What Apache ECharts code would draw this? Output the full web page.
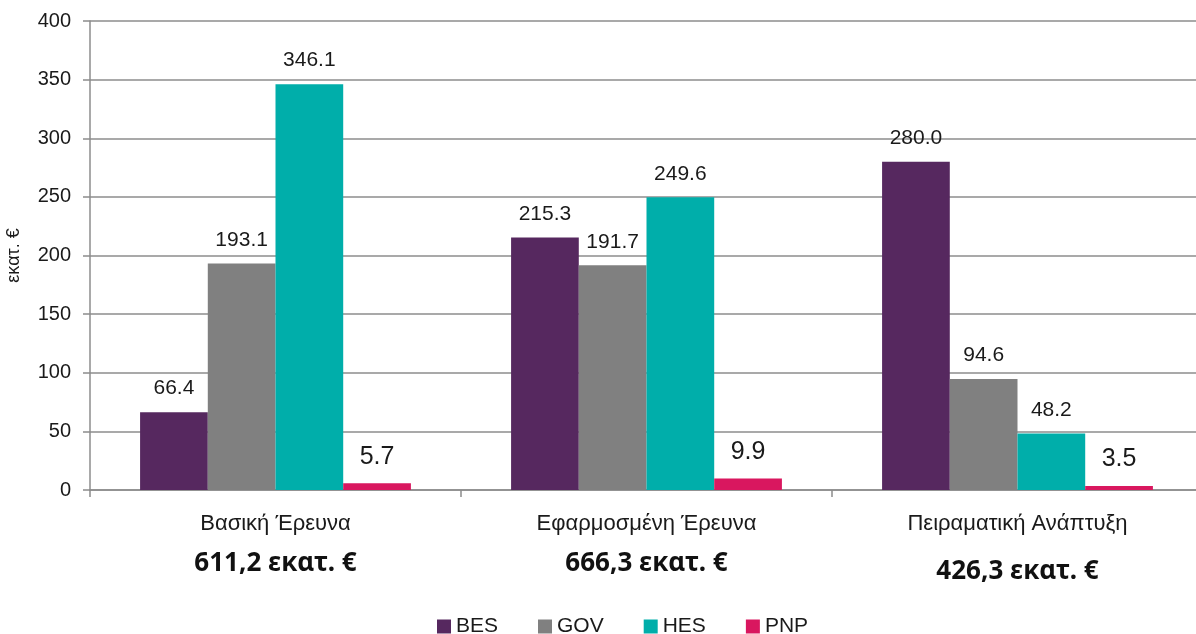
<!DOCTYPE html>
<html>
<head>
<meta charset="utf-8">
<script src="https://cdn.jsdelivr.net/npm/echarts@6/dist/echarts.min.js"></script>
<style>
  html, body { margin: 0; padding: 0; background: #fff; overflow: hidden; }
  #chart { width: 1203px; height: 634px; }
</style>
</head>
<body>
<div id="chart"></div>
<script>
const categories = ['Βασική Έρευνα', 'Εφαρμοσμένη Έρευνα', 'Πειραματική Ανάπτυξη']
const totals = ['611,2 εκατ. €', '666,3 εκατ. €', '426,3 εκατ. €']
const bes = [66.4, 215.3, 280.0]
const gov = [193.1, 191.7, 94.6]
const hes = [346.1, 249.6, 48.2]
const pnp = [5.7, 9.9, 3.5]
const yTicks = [0, 50, 100, 150, 200, 250, 300, 350, 400]

const sans = 'Liberation Sans, Arial, sans-serif'
const textColor = '#1a1a1a'
const lineColor = '#8c8c8c'

function barSeries(name, data, color, big) {
  return {
    name,
    type: 'bar',
    data,
    barGap: '0%',
    barCategoryGap: '27%',
    itemStyle: { color },
    label: {
      show: true,
      position: 'top',
      distance: big ? 14 : 13,
      color: textColor,
      fontFamily: sans,
      fontSize: big ? 25 : 21,
      formatter: p => p.value.toFixed(1),
    },
  }
}

const chart = echarts.init(document.getElementById('chart'))
chart.setOption({
  animation: false,
  grid: { left: 90, right: 0, top: 21, bottom: 144, outerBoundsMode: 'none' },
  legend: {
    left: 432,
    top: 611,
    itemWidth: 14,
    itemHeight: 14,
    itemGap: 40,
    icon: 'rect',
    textStyle: { fontFamily: sans, fontSize: 21, color: textColor },
  },
  xAxis: {
    type: 'category',
    data: categories,
    axisLine: { lineStyle: { color: lineColor, width: 1.5 } },
    axisTick: { show: true, length: 7, lineStyle: { color: lineColor, width: 1.5 } },
    axisLabel: {
      margin: 21,
      fontFamily: sans,
      formatter: (v, i) => `{a|${v}}\n{${i === 2 ? 'c' : 'b'}|${totals[i]}}`,
      rich: {
        a: { fontSize: 22, color: textColor, lineHeight: 26, fontFamily: sans },
        b: { fontSize: 26, fontWeight: 'bold', color: '#111', lineHeight: 54, fontFamily: 'Noto Sans, Open Sans, sans-serif' },
        c: { fontSize: 26, fontWeight: 'bold', color: '#111', lineHeight: 70, fontFamily: 'Noto Sans, Open Sans, sans-serif' },
      },
    },
  },
  yAxis: {
    type: 'value',
    min: yTicks[0],
    max: yTicks[yTicks.length - 1],
    interval: 50,
    name: 'εκατ. €',
    nameLocation: 'middle',
    nameGap: 67,
    nameTextStyle: { fontFamily: sans, fontSize: 18, color: textColor },
    axisLine: { show: true, lineStyle: { color: lineColor, width: 1.5 } },
    axisTick: { show: true, length: 7, lineStyle: { color: lineColor, width: 1.5 } },
    axisLabel: { margin: 19, fontFamily: sans, fontSize: 20, color: textColor },
    splitLine: { lineStyle: { color: lineColor, width: 1.5 } },
  },
  series: [
    barSeries('BES', bes, '#56285f', false),
    barSeries('GOV', gov, '#808080', false),
    barSeries('HES', hes, '#00aeaa', false),
    barSeries('PNP', pnp, '#d9175f', true),
  ],
})
</script>
</body>
</html>
